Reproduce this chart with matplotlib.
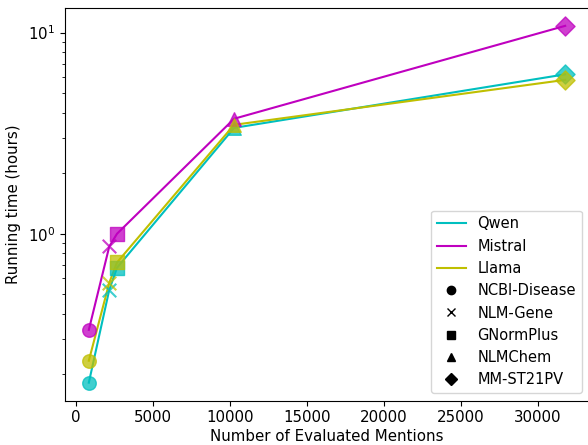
import matplotlib
matplotlib.use("Agg")
import matplotlib.pyplot as plt
from matplotlib.lines import Line2D

# datasets (x = number of evaluated mentions)
datasets = ['NCBI-Disease', 'NLM-Gene', 'GNormPlus', 'NLMChem', 'MM-ST21PV']
markers = ['o', 'x', 's', '^', 'D']
mentions = [830, 2160, 2660, 10270, 31780]

# running time in hours per model
models = ['Qwen', 'Mistral', 'Llama']
colors = ['c', 'm', 'y']
qwen_hours = [0.182, 0.527, 0.678, 3.36, 6.2]
mistral_hours = [0.333, 0.865, 1.0, 3.73, 10.8]
llama_hours = [0.234, 0.571, 0.72, 3.48, 5.82]
hours = [qwen_hours, mistral_hours, llama_hours]


def main():
    plt.rcParams['font.size'] = 10.8
    fig = plt.figure(figsize=(5.88, 4.45), dpi=100)
    ax = fig.add_axes([65 / 588, 44.5 / 445, 524 / 588, 392.5 / 445])

    for name, col, vals in zip(models, colors, hours):
        ax.plot(mentions, vals, color=col, linewidth=1.5, label=name)
        for x, y, mk in zip(mentions, vals, markers):
            ax.scatter(x, y, marker=mk, color=col, s=95, alpha=0.75, zorder=3)

    ax.set_yscale('log')
    ax.set_xlabel('Number of Evaluated Mentions', labelpad=3)
    ax.set_ylabel('Running time (hours)', labelpad=5)

    # legend: models as lines, datasets as black markers
    handles = [Line2D([0], [0], color=c, linewidth=1.5) for c in colors]
    handles += [Line2D([0], [0], marker=m, color='black', linestyle='None')
                for m in markers]
    ax.legend(handles, models + datasets, loc='lower right', fontsize=10.5)

    fig.savefig('out.png', dpi=100)


if __name__ == "__main__":
    main()
